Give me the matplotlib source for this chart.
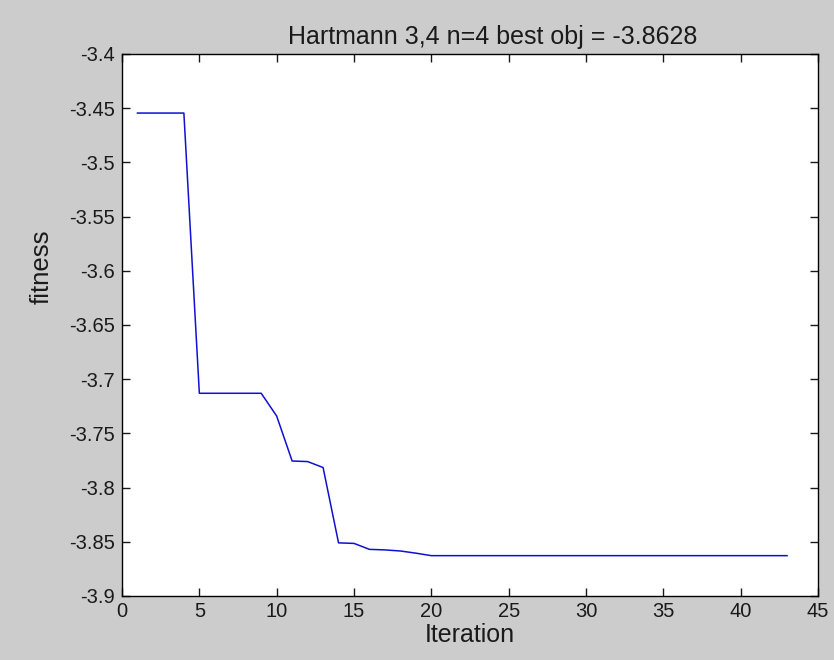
import matplotlib
matplotlib.use("Agg")
import matplotlib.pyplot as plt

# valores
iteraciones = list(range(1, 44))
fitness = ([-3.4545] * 4 + [-3.7130] * 5 +
           [-3.7340, -3.7755, -3.7760, -3.7815, -3.8510, -3.8515,
            -3.8570, -3.8575, -3.8585, -3.8605] +
           [-3.8628] * 24)

xticks = list(range(0, 50, 5))
yticks = [-3.9, -3.85, -3.8, -3.75, -3.7, -3.65, -3.6, -3.55, -3.5, -3.45, -3.4]

plt.rcParams['font.family'] = ['Liberation Sans', 'DejaVu Sans']

fig = plt.figure(figsize=(8.34, 6.6), dpi=100, facecolor='#cccccc')
ax = fig.add_axes([0.1463, 0.0970, 0.8345, 0.8212])
ax.plot(iteraciones, fitness, color='#1010d0', linewidth=1.1)

ax.set_xlim(0, 45)
ax.set_ylim(-3.9, -3.4)
ax.set_xticks(xticks)
ax.set_yticks(yticks)
ax.set_yticklabels(['%g' % v for v in yticks])
ax.tick_params(direction='in', top=True, right=True, length=6, width=1,
               labelsize=14.5, colors='#1a1a1a')
ax.tick_params(axis='y', pad=5)
ax.tick_params(axis='x', pad=4)
for s in ax.spines.values():
    s.set_linewidth(1.0)

ax.set_xlabel('Iteration', fontsize=18, labelpad=2, color='#1a1a1a')
ax.set_ylabel('fitness', fontsize=18.5, color='#1a1a1a')
ax.yaxis.set_label_coords(-0.098, 0.607)
ax.set_title('Hartmann 3,4 n=4 best obj = -3.8628', fontsize=18, x=0.532, pad=7,
             color='#1a1a1a')

fig.savefig('out.png', dpi=100, facecolor=fig.get_facecolor())
